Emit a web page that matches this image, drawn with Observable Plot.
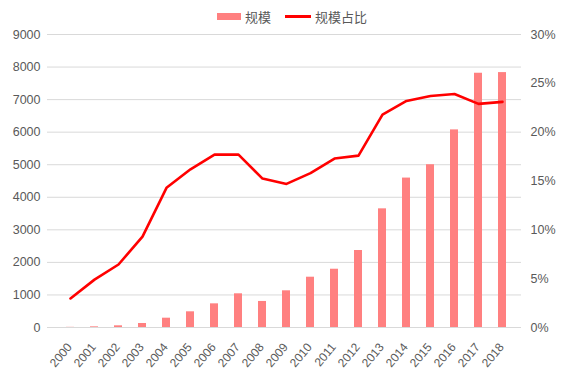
<!DOCTYPE html>
<html><head><meta charset="utf-8">
<script src="https://cdn.jsdelivr.net/npm/d3@7"></script>
<script src="https://cdn.jsdelivr.net/npm/@observablehq/plot@0.6"></script>
<style>
body{margin:0;background:#fff;font-family:"Liberation Sans",sans-serif;}
#legend{height:28px;display:flex;align-items:center;justify-content:flex-start;padding-left:217px;font-family:"Noto Sans CJK SC",sans-serif;font-size:13px;color:#595959;box-sizing:border-box;padding-top:4px}
.sw{display:inline-block;margin-right:4px}
svg{overflow:visible}
</style></head>
<body>
<div id="legend">
<span class="sw" style="width:24px;height:7px;background:#FF8080"></span><span style="margin-right:14px">规模</span>
<span class="sw" style="width:26px;height:3px;background:#FF0000"></span><span>规模占比</span>
</div>
<div id="chart"></div>
<script>
const years = ["2000","2001","2002","2003","2004","2005","2006","2007","2008","2009","2010","2011","2012","2013","2014","2015","2016","2017","2018"];
const scale = [5,20,52,123,286,482,727,1035,800,1127,1545,1790,2365,3645,4590,5000,6070,7810,7830];
const share = [2.97,4.9,6.45,9.3,14.3,16.2,17.7,17.7,15.25,14.7,15.8,17.3,17.6,21.8,23.2,23.7,23.9,22.9,23.1];
const leftTicks = [0,1000,2000,3000,4000,5000,6000,7000,8000,9000];
const rightTicks = [0,5,10,15,20,25,30];

const data = years.map((y,i)=>({year:y, v:scale[i], s:share[i]}));
const k = 9000/30;
const plot = Plot.plot({
  width:564, height:353,
  marginTop:6, marginBottom:54, marginLeft:51, marginRight:43,
  style:{fontFamily:"'Liberation Sans',sans-serif", fontSize:"12.5px", color:"#595959"},
  x:{domain:years, paddingInner:0.66, paddingOuter:0.33, label:null, axis:null},
  y:{domain:[0,9000], label:null},
  marks:[
    Plot.ruleY(leftTicks,{stroke:"#d9d9d9", strokeWidth:1, insetLeft:-4}),
    Plot.axisY({ticks:leftTicks, tickSize:0, tickPadding:11, label:null, tickFormat:d=>String(d)}),
    Plot.axisY({anchor:"right", ticks:rightTicks.map(t=>t*k), tickSize:0, tickPadding:9, label:null, tickFormat:d=>Math.round(d/k)+"%"}),
    Plot.barY(data,{x:"year", y:"v", fill:"#FF8080"}),
    Plot.lineY(data,{x:"year", y:d=>d.s*k, stroke:"#FF0000", strokeWidth:2.6, curve:"linear"}),
    Plot.text(years,{x:d=>d, text:d=>d, frameAnchor:"bottom", dy:20, dx:2, rotate:-50, textAnchor:"end", fill:"#595959", fontSize:12})
  ]
});
document.getElementById("chart").appendChild(plot);
</script>
</body></html>
